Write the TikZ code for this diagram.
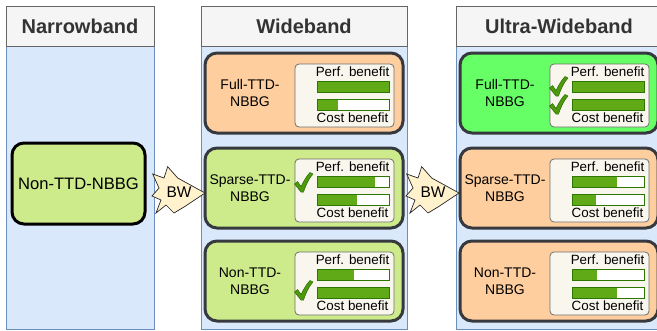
\documentclass[tikz,border=0pt]{standalone}
\usepackage{fontspec}
\setmainfont{Liberation Sans}
\definecolor{hdfill}{HTML}{F5F5F5}
\definecolor{hddraw}{HTML}{666666}
\definecolor{hdtext}{HTML}{333333}
\definecolor{bdfill}{HTML}{DAE8FC}
\definecolor{bddraw}{HTML}{6C8EBF}
\definecolor{lime}{HTML}{CDEB8B}
\definecolor{peach}{HTML}{FFCE9F}
\definecolor{brightg}{HTML}{66FF66}
\definecolor{boxdraw}{HTML}{36393D}
\definecolor{panfill}{HTML}{F9F7ED}
\definecolor{pandraw}{HTML}{6D6D6D}
\definecolor{barfill}{HTML}{60A917}
\definecolor{bardraw}{HTML}{2D7600}
\definecolor{tickc}{HTML}{4D9A0E}
\definecolor{tickd}{HTML}{2D6A00}
\definecolor{bwfill}{HTML}{FFF2CC}
\tikzset{
  colhead/.style={draw=hddraw, fill=hdfill, line width=0.8pt, minimum height=40pt, anchor=north west, inner sep=0pt, outer sep=0pt, text=hdtext, font=\fontsize{20}{24}\selectfont\bfseries},
  colbody/.style={draw=bddraw, fill=bdfill, line width=0.8pt, minimum height=283pt, anchor=north west, inner sep=0pt, outer sep=0pt},
  nbbgbox/.style={rounded corners=12pt, line width=3pt, minimum width=198pt, minimum height=80pt, anchor=north west, inner sep=0pt, outer sep=0pt},
  boxlabel/.style={align=center, font=\fontsize{14}{17}\selectfont, inner sep=0pt},
  panel/.style={draw=pandraw, fill=panfill, rounded corners=4pt, line width=0.8pt},
  pantext/.style={font=\fontsize{13.4}{15}\selectfont, inner sep=0pt},
  barbg/.style={fill=white},
  barfg/.style={fill=barfill},
  barframe/.style={draw=bardraw, line width=0.9pt},
  bwarrow/.style={draw=black!85, fill=bwfill, line width=0.7pt, line join=miter},
  bwtext/.style={font=\fontsize{15.5}{18}\selectfont, inner sep=0pt},
  tickmark/.style={fill=tickc, draw=tickd, line width=0.5pt, line join=round},
}
% name, x, y, fill, draw, label, perf fraction, cost fraction
\newcommand\nbbgunit[8]{%
  \begin{scope}[shift={(#2,#3)}]
    \node[nbbgbox, fill=#4, draw=#5] (#1) at (0,0) {};
    \node[boxlabel] (#1-lbl) at (45,40) {#6};
    \path[panel] (90,11) rectangle (189,74);
    \node[pantext] (#1-perf) at (147.5,19) {Perf. benefit};
    \node[pantext] (#1-cost) at (147.5,65) {Cost benefit};
    \path[barbg] (112,28) rectangle (184,39);
    \path[barfg] (112,28) rectangle ({112+72*#7},39);
    \path[barbg] (112,46) rectangle (184,57);
    \path[barfg] (112,46) rectangle ({112+72*#8},57);
    \path[barframe] (112,28) rectangle (184,39) (112,46) rectangle (184,57);
  \end{scope}}
\newcommand\tickat[2]{%
  \path[tickmark] (#1,#2) -- ++(-6.5,-8) -- ++(3,-2.5) -- ++(3.5,5) .. controls ++(3,-6) and ++(-3,3) .. ++(9,-14) -- ++(3,1.5) .. controls ++(-4,4) and ++(2,-6) .. (#1+2.5,#2) -- cycle;}
\begin{document}
\begin{tikzpicture}[x=1pt,y=-1pt]
\useasboundingbox (0,0) rectangle (657,330);
\clip (0,0) rectangle (657,330);
% columns
\node[colbody, minimum width=148pt] (nbody) at (6,46) {};
\node[colhead, minimum width=148pt] (nhead) at (6,6) {Narrowband};
\node[colbody, minimum width=206pt] (wbody) at (201,46) {};
\node[colhead, minimum width=206pt] (whead) at (201,6) {Wideband};
\node[colbody, minimum width=206pt] (ubody) at (456,46) {};
\node[colhead, minimum width=206pt] (uhead) at (456,6) {Ultra-Wideband};
% narrowband box
\node[rounded corners=12pt, line width=3pt, draw=black, fill=lime, minimum width=133pt, minimum height=81pt, inner sep=0pt, font=\fontsize{16.6}{20}\selectfont] (nb) at (78.5,183.5) {Non-TTD-NBBG};
% wideband
\nbbgunit{wfull}{205}{53}{peach}{boxdraw}{Full-TTD-\\NBBG}{1}{0.29}
\nbbgunit{wsparse}{205}{148}{lime}{boxdraw}{Sparse-TTD-\\NBBG}{0.8}{0.55}
\nbbgunit{wnon}{205}{241}{lime}{boxdraw}{Non-TTD-\\NBBG}{0.51}{1}
% ultra-wideband
\nbbgunit{ufull}{460}{53}{brightg}{boxdraw}{Full-TTD-\\NBBG}{1}{1}
\nbbgunit{usparse}{460}{148}{peach}{boxdraw}{Sparse-TTD-\\NBBG}{0.62}{0.34}
\nbbgunit{unon}{460}{241}{peach}{boxdraw}{Non-TTD-\\NBBG}{0.35}{0.62}
% ticks
\tickat{301}{192}
\tickat{301}{300}
\tickat{556}{96}
\tickat{556}{114}
% BW arrows
\foreach \dx/\nm in {0/bw1, 254/bw2}{
  \begin{scope}[shift={(\dx,0)}]
    \path[bwarrow] (152.7,174) -- (164,178) -- (167.7,166.7) -- (177.7,178) -- (205,193) -- (184,207) -- (174,213) -- (166,205) -- (156,213) -- (161,200) -- (152,196) -- (159,188) -- cycle;
    \node[bwtext] (\nm) at (179,192) {BW};
  \end{scope}}
\end{tikzpicture}
\end{document}
